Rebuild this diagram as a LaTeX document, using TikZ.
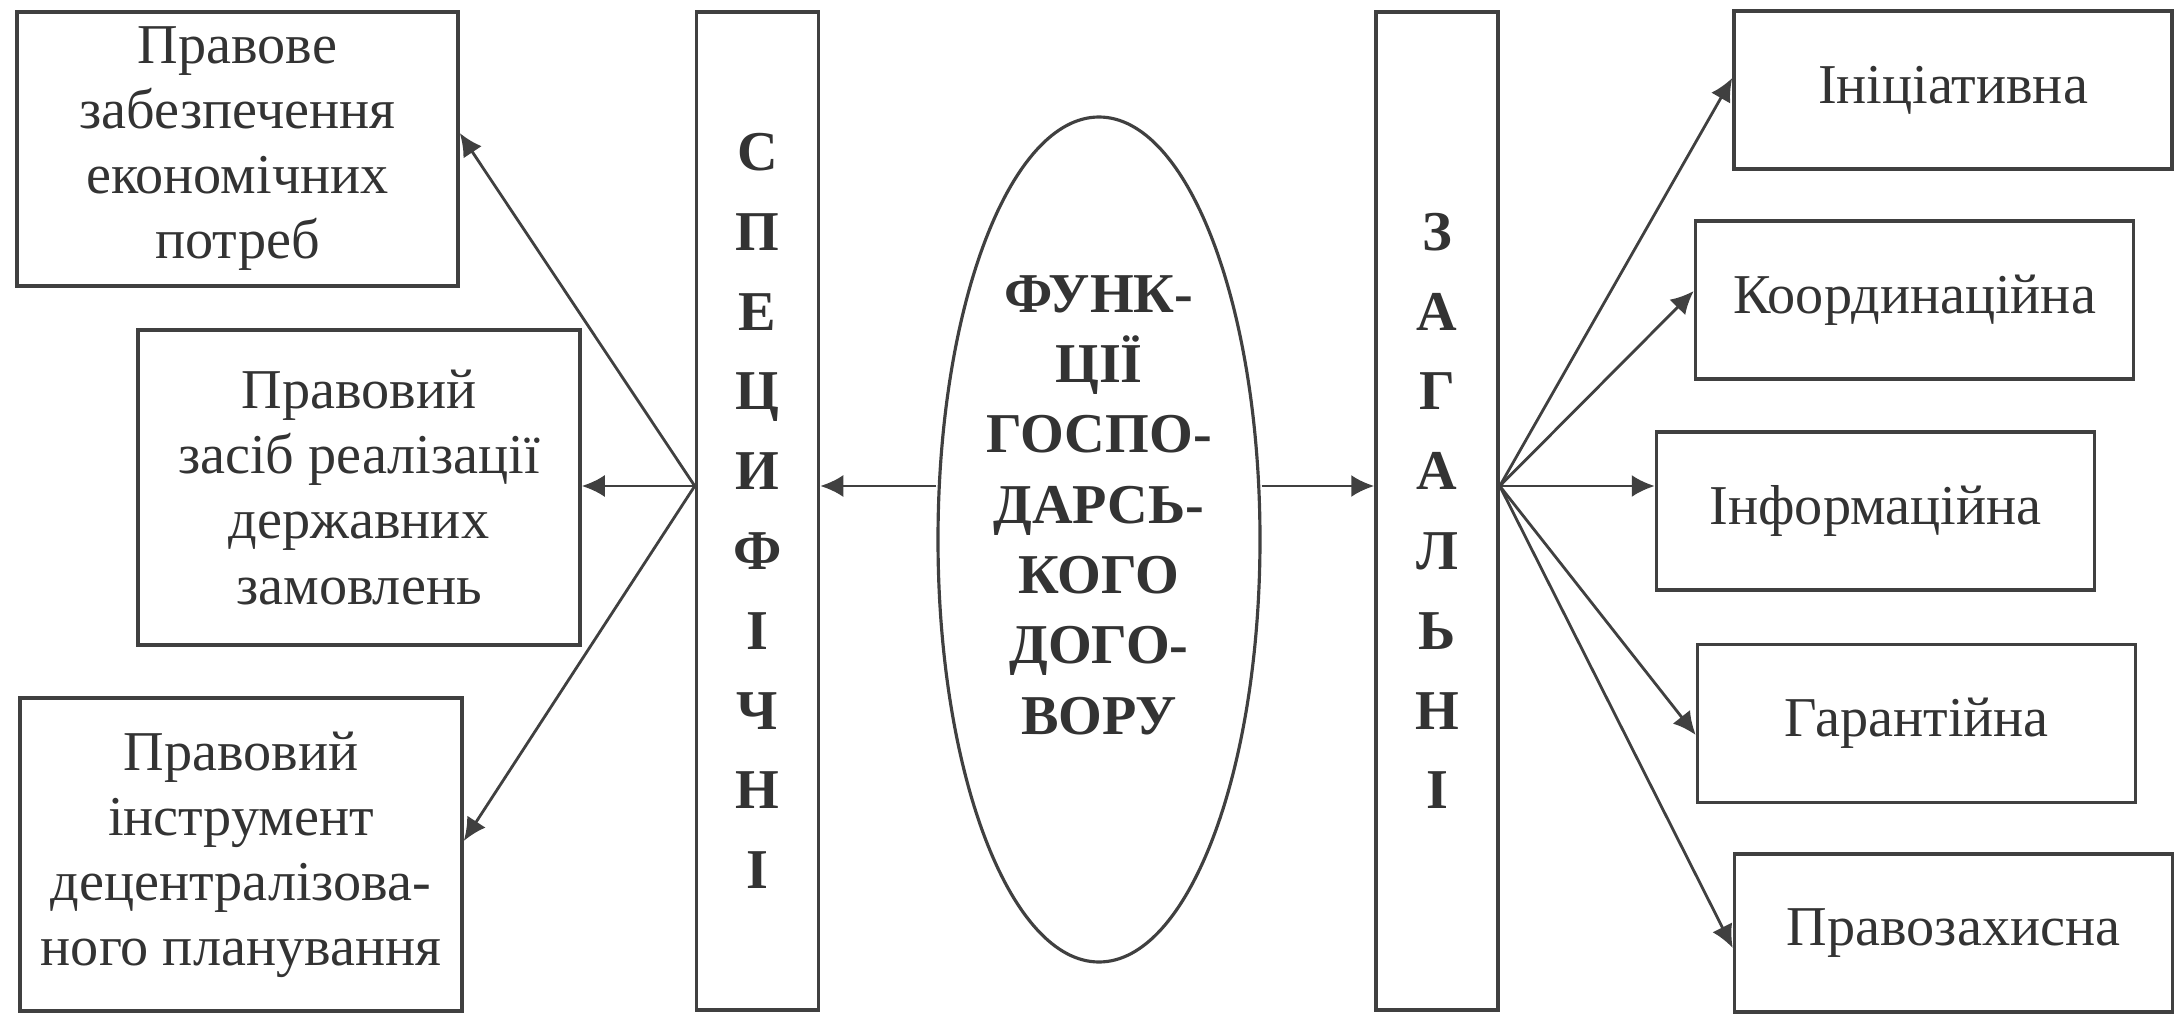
\documentclass[tikz,border=0pt]{standalone}
\usepackage{fontspec}
\setmainfont{Liberation Serif}
\usetikzlibrary{positioning, arrows.meta, shapes.geometric}

\begin{document}
\begin{tikzpicture}[x=0.1mm, y=-0.1mm,
  fbox/.style={draw=black!75, line width=1pt, align=center, text=black!80,
    font=\fontsize{16}{18.5}\selectfont, inner sep=2pt},
  rbox/.style={fbox, minimum width=43.8mm, minimum height=15.8mm},
  bar/.style={draw=black!75, line width=1pt, align=center, text=black!80,
    font=\fontsize{16}{22.7}\selectfont\bfseries, minimum width=12.2mm, minimum height=99.8mm},
  oval/.style={draw=black!75, line width=0.9pt, ellipse, minimum width=32.2mm,
    minimum height=84.5mm, inner sep=0pt},
  arr/.style={draw=black!75, line width=0.8pt, -{Latex[length=2.3mm, width=2.2mm]}}]
\useasboundingbox (0,0) rectangle (2174,1015);
\node[fbox, minimum width=44.1mm, minimum height=27.4mm] (s1) at (237.5,149) {Правове\\ забезпечення\\ економічних\\ потреб};
\node[fbox, minimum width=44.2mm, minimum height=31.5mm] (s2) at (359,487.5) {Правовий\\ засіб реалізації\\ державних\\ замовлень};
\node[fbox, minimum width=44.2mm, minimum height=31.3mm] (s3) at (241,854.5) {Правовий\\ інструмент\\ децентралізова-\\ ного планування};
\node[bar] (spec) at (757.5,511) {С\\ П\\ Е\\ Ц\\ И\\ Ф\\ І\\ Ч\\ Н\\ І};
\node[oval] (ell) at (1099,539.5) {};
\node[align=center, text=black!80, font=\fontsize{16}{20}\selectfont\bfseries] (elltxt) at (1099,505)
  {ФУНК-\\ ЦІЇ\\ ГОСПО-\\ ДАРСЬ-\\ КОГО\\ ДОГО-\\ ВОРУ};
\node[bar] (zag) at (1437,511) {З\\ А\\ Г\\ А\\ Л\\ Ь\\ Н\\ І};
\node[rbox] (r1) at (1953,90) {Ініціативна};
\node[rbox] (r2) at (1914.5,300) {Координаційна};
\node[rbox] (r3) at (1875.5,511) {Інформаційна};
\node[rbox] (r4) at (1916.5,723.5) {Гарантійна};
\node[rbox] (r5) at (1953.5,933) {Правозахисна};
\coordinate (axis) at (1099,486);
\draw[arr] (ell.west |- axis) -- (spec.east |- axis);
\draw[arr] (ell.east |- axis) -- (zag.west |- axis);
\draw[arr] (spec.west |- axis) -- ([yshift=1.6mm]s1.east);
\draw[arr] (spec.west |- axis) -- (s2.east |- axis);
\draw[arr] (spec.west |- axis) -- ([yshift=1.35mm]s3.east);
\foreach \n/\dy in {r1/1.2mm, r2/0.9mm, r4/-1.15mm, r5/-1.5mm}
  \draw[arr] (zag.east |- axis) -- ([yshift=\dy]\n.west);
\draw[arr] (zag.east |- axis) -- (r3.west |- axis);
\end{tikzpicture}
\end{document}
